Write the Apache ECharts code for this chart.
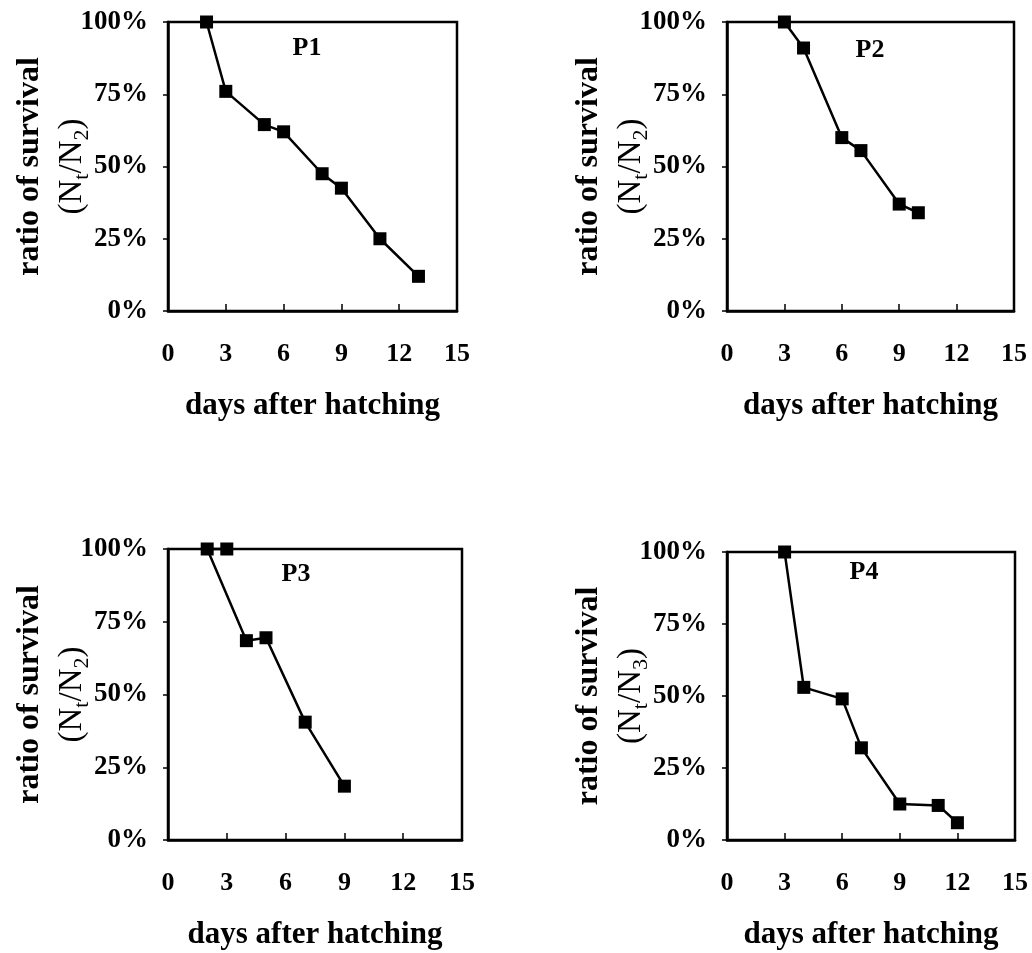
<!DOCTYPE html>
<html>
<head>
<meta charset="utf-8">
<script src="https://cdn.jsdelivr.net/npm/echarts@6/dist/echarts.min.js"></script>
<style>
  html, body { margin: 0; padding: 0; background: #fff; }
  #chart { width: 1032px; height: 953px; }
</style>
</head>
<body>
<div id="chart"></div>
<script>
// Survival ratio by days after hatching, four groups (P1–P4)
const panelNames = ['P1', 'P2', 'P3', 'P4'];
const denomSub = ['2', '2', '2', '3'];

const daysP1 = [2, 3, 5, 6, 8, 9, 11, 13];
const survP1 = [100, 76, 64.5, 62, 47.5, 42.5, 25, 12];

const daysP2 = [3, 4, 6, 7, 9, 10];
const survP2 = [100, 91, 60, 55.5, 37, 34];

const daysP3 = [3, 2, 4, 5, 7, 9];
const survP3 = [100, 100, 68.5, 69.5, 40.5, 18.5];

const daysP4 = [3, 4, 6, 7, 9, 11, 12];
const survP4 = [100, 53, 49, 32, 12.5, 12, 6];

const xTicks = [0, 3, 6, 9, 12, 15];
const yTicks = [0, 25, 50, 75, 100];

const panelDays = [daysP1, daysP2, daysP3, daysP4];
const panelSurv = [survP1, survP2, survP3, survP4];

const FONT = "'Liberation Serif', 'Times New Roman', serif";

// plot-area boxes: left, top, width, height
const boxes = [
  [168, 22, 289, 289],
  [727, 22, 287, 289],
  [168, 549, 294, 291],
  [727, 552, 288, 288]
];
// panel tag centres
const tagPos = [[307, 48], [870, 50], [296, 574], [864, 572]];

const grids = [], xAxes = [], yAxes = [], series = [], graphics = [];

boxes.forEach(function (b, i) {
  grids.push({
    left: b[0], top: b[1], width: b[2], height: b[3],
    show: true, borderColor: '#000', borderWidth: 2.5,
    backgroundColor: 'transparent',
    containLabel: false, outerBoundsMode: 'none'
  });
  xAxes.push({
    gridIndex: i, type: 'value',
    min: xTicks[0], max: xTicks[xTicks.length - 1], interval: xTicks[1] - xTicks[0],
    axisLine: { show: true, onZero: false, lineStyle: { color: '#000', width: 2.5 } },
    axisTick: { show: true, inside: true, length: 7, lineStyle: { color: '#000', width: 1.5 } },
    splitLine: { show: false },
    axisLabel: { margin: 30, fontSize: 26, fontWeight: 'bold', fontFamily: FONT, color: '#000' },
    name: 'days after hatching',
    nameLocation: 'middle', nameGap: 79, nameMoveOverlap: false,
    nameTextStyle: { fontSize: 31, fontWeight: 'bold', fontFamily: FONT, color: '#000' }
  });
  yAxes.push({
    gridIndex: i, type: 'value',
    min: yTicks[0], max: yTicks[yTicks.length - 1], interval: yTicks[1] - yTicks[0],
    axisLine: { show: true, onZero: false, lineStyle: { color: '#000', width: 2.5 } },
    axisTick: { show: true, inside: false, length: 5, lineStyle: { color: '#000', width: 1.5 } },
    splitLine: { show: false },
    axisLabel: { margin: 20, fontSize: 27, fontWeight: 'bold', fontFamily: FONT, color: '#000',
                 formatter: '{value}%' },
    name: '{a|ratio of survival}\n{b|(N}{s|t}{b|/N}{s|' + denomSub[i] + '}{b|)}',
    nameLocation: 'middle', nameGap: 75, nameMoveOverlap: false,
    nameTextStyle: {
      color: '#000',
      rich: {
        a: { fontSize: 32, fontWeight: 'bold', fontFamily: FONT, color: '#000', lineHeight: 42 },
        b: { fontSize: 33, fontFamily: FONT, color: '#000', lineHeight: 42 },
        s: { fontSize: 22, fontFamily: FONT, color: '#000', lineHeight: 22, verticalAlign: 'bottom' }
      }
    }
  });
  series.push({
    type: 'line', xAxisIndex: i, yAxisIndex: i,
    data: panelDays[i].map(function (d, j) { return [d, panelSurv[i][j]]; }),
    symbol: 'rect', symbolSize: 13,
    itemStyle: { color: '#000' },
    lineStyle: { color: '#000', width: 2.5 },
    clip: false, z: 5
  });
  graphics.push({
    type: 'text', x: tagPos[i][0], y: tagPos[i][1],
    style: {
      text: panelNames[i], fill: '#000',
      font: 'bold 26px ' + FONT,
      align: 'center', verticalAlign: 'middle'
    }
  });
});

const chart = echarts.init(document.getElementById('chart'), null, { renderer: 'canvas' });
chart.setOption({
  animation: false,
  backgroundColor: '#fff',
  grid: grids,
  xAxis: xAxes,
  yAxis: yAxes,
  series: series,
  graphic: graphics
});
</script>
</body>
</html>
